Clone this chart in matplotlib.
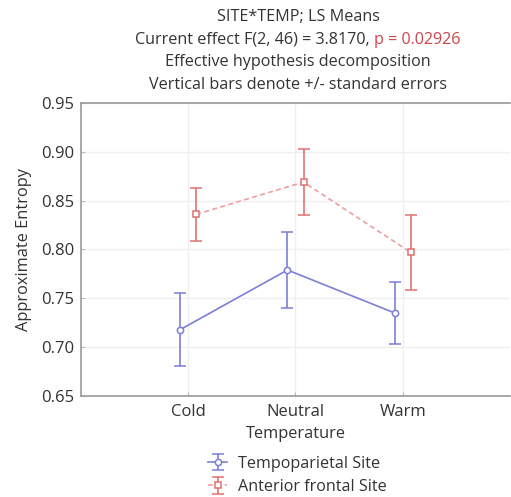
import numpy as np
import matplotlib.pyplot as plt

# LS means and standard errors
temps = ['Cold', 'Neutral', 'Warm']
tempo_mean = [0.718, 0.779, 0.735]
tempo_se = [0.037, 0.039, 0.032]
front_mean = [0.836, 0.869, 0.797]
front_se = [0.027, 0.034, 0.038]

blue = '#7b7fd6'
red = '#e07272'
txt = '#333333'

plt.rcParams['font.family'] = ['Open Sans', 'DejaVu Sans']

fig = plt.figure(figsize=(5.11, 4.97), dpi=100)
ax = fig.add_axes([0.1585, 0.2032, 0.8395, 0.5896])

x = np.arange(1, len(temps) + 1)
h1 = ax.errorbar(x - 0.075, tempo_mean, yerr=tempo_se, color=blue, lw=1.2,
                 marker='o', ms=4.5, mfc='white', mec=blue, mew=1.1,
                 capsize=4, capthick=1.2, elinewidth=1.2,
                 label='Tempoparietal Site')
h2 = ax.errorbar(x + 0.075, front_mean, yerr=front_se, color=red, lw=1.2,
                 marker='s', ms=4.5, mfc='white', mec=red, mew=1.1,
                 capsize=4, capthick=1.2, elinewidth=1.2,
                 label='Anterior frontal Site')
h2[0].set_linestyle((0, (3, 2)))
h2[0].set_color('#eaa0a0')
h2[0].set_markeredgecolor(red)

ax.set_xlim(0, 4)
ax.set_ylim(0.65, 0.95)
ax.set_xticks(x)
ax.set_xticklabels(temps)
ax.set_yticks(np.arange(0.65, 0.951, 0.05))
ax.yaxis.set_major_formatter(plt.FormatStrFormatter('%.2f'))
ax.grid(True, color='#efefef', lw=0.9)
ax.set_axisbelow(True)
for s in ['left', 'bottom', 'top']:
    ax.spines[s].set_color('#9a9a9a')
    ax.spines[s].set_linewidth(1.2)
ax.spines['right'].set_visible(False)
ax.tick_params(direction='in', length=3, color='#bbbbbb', labelsize=12,
               labelcolor=txt)
ax.tick_params(axis='x', pad=6)
ax.tick_params(axis='y', pad=5)
ax.set_xlabel('Temperature', fontsize=11.8, color=txt, labelpad=4)
ax.set_ylabel('Approximate Entropy', fontsize=11.8, color=txt, labelpad=6)

# title block
W, H = 511, 497
fs = 11.6
cx = 298 / W
fig.text(cx, 1 - 17 / H, 'SITE*TEMP; LS Means', ha='center', va='center',
         fontsize=fs, color=txt)
t1 = fig.text(0, 1 - 40 / H, 'Current effect F(2, 46) = 3.8170, ', ha='left',
              va='center', fontsize=fs, color=txt)
t2 = fig.text(0, 1 - 40 / H, 'p = 0.02926', ha='left', va='center',
              fontsize=fs, color='#d0444a')
r = fig.canvas.get_renderer()
w1 = t1.get_window_extent(r).width / W
w2 = t2.get_window_extent(r).width / W
t1.set_x(cx - (w1 + w2) / 2)
t2.set_x(cx - (w1 + w2) / 2 + w1)
fig.text(cx, 1 - 62 / H, 'Effective hypothesis decomposition', ha='center',
         va='center', fontsize=fs, color=txt)
fig.text(cx, 1 - 85 / H, 'Vertical bars denote +/- standard errors',
         ha='center', va='center', fontsize=fs, color=txt)

leg = fig.legend(handles=[h1, h2], loc='upper left',
                 bbox_to_anchor=(195 / W, 1 - 443 / H), frameon=False,
                 fontsize=11.6, handlelength=1.2, handletextpad=0.7,
                 labelspacing=0.45, borderpad=0.3)
for t in leg.get_texts():
    t.set_color(txt)

fig.savefig('out.png', dpi=100)
